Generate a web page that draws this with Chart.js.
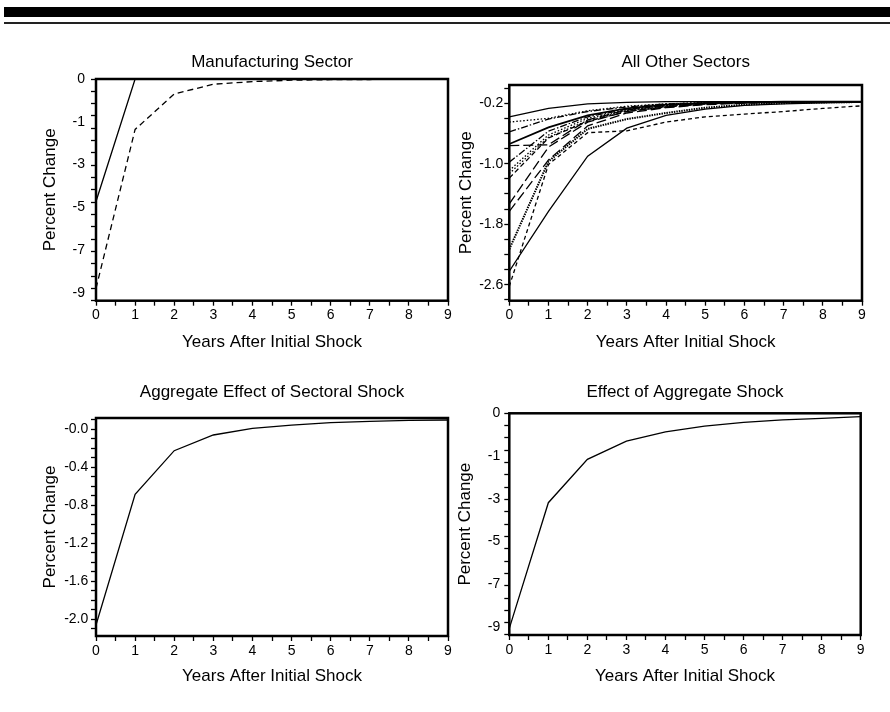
<!DOCTYPE html>
<html>
<head>
<meta charset="utf-8">
<title>Sectoral and aggregate shocks</title>
<script src="https://cdn.jsdelivr.net/npm/chart.js@4.4.0/dist/chart.umd.min.js"></script>
<style>
  body { margin: 0; background: #fff; width: 890px; height: 712px; position: relative; overflow: hidden; }
  .bar { position: absolute; left: 4px; right: 0; top: 7px; height: 10px; background: #000; }
  .rule { position: absolute; left: 4px; right: 0; top: 22px; height: 1.5px; background: #222; }
  .panel { position: absolute; }
  canvas { display: block; }
</style>
</head>
<body>
<div class="bar"></div>
<div class="rule"></div>
<div class="panel" style="left:0;top:40px"><canvas id="mfg" width="460" height="320"></canvas></div>
<div class="panel" style="left:455px;top:40px"><canvas id="other" width="435" height="320"></canvas></div>
<div class="panel" style="left:0;top:370px"><canvas id="aggSect" width="460" height="320"></canvas></div>
<div class="panel" style="left:455px;top:370px"><canvas id="aggShock" width="435" height="320"></canvas></div>
<script>
const years = [0, 1, 2, 3, 4, 5, 6, 7, 8, 9];
const xTickLabels = ['0', '1', '2', '3', '4', '5', '6', '7', '8', '9'];

// Manufacturing Sector
const mfgSolid = [-5.15, 0, 0, 0, 0, 0, 0, 0, 0, 0];
const mfgDashed = [-8.8, -2.12, -0.63, -0.22, -0.11, -0.05, -0.03, -0.02, -0.01, -0.01];
const mfgTickValues = [0, -1.8, -3.6, -5.4, -7.2, -9.0];
const mfgTickLabels = ['0', '-1', '-3', '-5', '-7', '-9'];

// All Other Sectors
const sector1 = [-0.38, -0.27, -0.21, -0.19, -0.18, -0.18, -0.18, -0.18, -0.18, -0.18];
const sector2 = [-0.45, -0.40, -0.30, -0.24, -0.21, -0.19, -0.18, -0.18, -0.18, -0.18];
const sector3 = [-0.58, -0.41, -0.31, -0.25, -0.21, -0.195, -0.185, -0.18, -0.18, -0.18];
const sector4 = [-0.74, -0.52, -0.36, -0.27, -0.22, -0.20, -0.19, -0.18, -0.18, -0.18];
const sector5 = [-0.76, -0.75, -0.42, -0.29, -0.23, -0.20, -0.19, -0.18, -0.18, -0.18];
const sector6 = [-0.98, -0.57, -0.38, -0.28, -0.23, -0.20, -0.19, -0.18, -0.18, -0.18];
const sector7 = [-1.09, -0.62, -0.40, -0.29, -0.23, -0.20, -0.19, -0.185, -0.18, -0.18];
const sector8 = [-1.13, -0.65, -0.43, -0.30, -0.24, -0.21, -0.19, -0.185, -0.18, -0.18];
const sector9 = [-1.19, -0.66, -0.44, -0.31, -0.25, -0.21, -0.195, -0.19, -0.185, -0.18];
const sector10 = [-1.53, -0.78, -0.45, -0.31, -0.25, -0.21, -0.195, -0.19, -0.185, -0.18];
const sector11 = [-1.63, -0.95, -0.50, -0.33, -0.26, -0.22, -0.20, -0.19, -0.185, -0.18];
const sector12 = [-2.13, -0.97, -0.54, -0.41, -0.33, -0.26, -0.22, -0.20, -0.19, -0.185];
const sector13 = [-2.42, -1.63, -0.90, -0.53, -0.36, -0.28, -0.23, -0.21, -0.195, -0.185];
const sector14 = [-2.62, -1.01, -0.59, -0.565, -0.45, -0.38, -0.345, -0.31, -0.27, -0.235];
const otherTickValues = [-0.2, -1.0, -1.8, -2.6];
const otherTickLabels = ['-0.2', '-1.0', '-1.8', '-2.6'];

// Aggregate Effect of Sectoral Shock
const aggSectoral = [-2.06, -0.684, -0.225, -0.06, 0.01, 0.045, 0.07, 0.084, 0.095, 0.098];
const aggSectTickValues = [0, -0.4, -0.8, -1.2, -1.6, -2.0];
const aggSectTickLabels = ['-0.0', '-0.4', '-0.8', '-1.2', '-1.6', '-2.0'];

// Effect of Aggregate Shock
const aggShock = [-9.07, -3.77, -1.94, -1.17, -0.78, -0.54, -0.38, -0.28, -0.21, -0.14];
const aggShockTickValues = [0, -1.8, -3.6, -5.4, -7.2, -9.0];
const aggShockTickLabels = ['0', '-1', '-3', '-5', '-7', '-9'];

const FONT = "'Liberation Sans', Arial, Helvetica, sans-serif";
Chart.defaults.font.family = FONT;
Chart.defaults.color = '#000';

const dotted = [1.5, 2];
const dashed = [5, 3];
const longDash = [10, 4];
const dashDot = [7, 2, 1.5, 2];

// box around the plot area
const framePlugin = {
  id: 'frame',
  afterDatasetsDraw(chart) {
    const { ctx, chartArea: { left, top, right, bottom } } = chart;
    ctx.save();
    ctx.lineWidth = 2.5;
    ctx.strokeStyle = '#000';
    ctx.strokeRect(left, top, right - left, bottom - top);
    ctx.restore();
  }
};

function toPoints(values) {
  return values.map((v, i) => ({ x: years[i], y: v }));
}

function makeChart(id, cfg) {
  new Chart(document.getElementById(id), {
    type: 'line',
    data: {
      datasets: cfg.series.map(s => ({
        data: toPoints(s.values),
        borderColor: '#000',
        borderWidth: s.width || 1.3,
        borderDash: s.dash || [],
        pointRadius: 0,
        fill: false,
        tension: 0
      }))
    },
    options: {
      responsive: false,
      animation: false,
      events: [],
      layout: { padding: { left: 0, right: cfg.padRight, top: 0, bottom: 0 } },
      plugins: {
        legend: { display: false },
        tooltip: { enabled: false },
        title: {
          display: true,
          text: cfg.title,
          fullSize: false,
          color: '#000',
          font: { size: 17, weight: 'normal' },
          padding: { top: cfg.titleTop, bottom: cfg.titleBottom }
        }
      },
      scales: {
        x: {
          type: 'linear',
          min: 0,
          max: 9,
          afterFit: s => { s.height = cfg.xHeight; },
          afterBuildTicks: s => {
            const t = [];
            for (let v = 0; v <= 9; v += 0.5) t.push({ value: v });
            s.ticks = t;
          },
          ticks: {
            autoSkip: false,
            maxRotation: 0,
            padding: cfg.xTickPad,
            font: { size: 14 },
            color: '#000',
            callback: v => Number.isInteger(v) ? xTickLabels[v] : ''
          },
          grid: { drawOnChartArea: false, drawTicks: true, tickLength: 5, tickWidth: 1.3, tickColor: '#000' },
          border: { display: false },
          title: {
            display: true,
            text: 'Years After Initial Shock',
            color: '#000',
            font: { size: 17 },
            padding: { top: 0, bottom: cfg.xTitleBottom }
          }
        },
        y: {
          type: 'linear',
          min: cfg.yMin,
          max: cfg.yMax,
          afterFit: s => { s.width = cfg.yWidth; },
          afterBuildTicks: s => {
            const t = [];
            const n = Math.round((cfg.minorTop - cfg.minorBottom) / cfg.minorStep);
            for (let i = 0; i <= n; i++) t.push({ value: cfg.minorTop - i * cfg.minorStep });
            cfg.tickValues.forEach((v, i) => {
              const hit = t.find(k => Math.abs(k.value - v) < 1e-6);
              if (hit) hit.lbl = cfg.tickLabels[i];
              else t.push({ value: v, lbl: cfg.tickLabels[i], hidden: true });
            });
            t.sort((a, b) => a.value - b.value);
            s.ticks = t;
          },
          ticks: {
            autoSkip: false,
            padding: cfg.yTickPad,
            font: { size: 14 },
            color: '#000',
            callback: (v, i, t) => t[i].lbl || ''
          },
          grid: {
            drawOnChartArea: false,
            drawTicks: true,
            tickLength: 5,
            tickWidth: 1.3,
            tickColor: c => (c.tick && c.tick.hidden) ? 'rgba(0,0,0,0)' : '#000'
          },
          border: { display: false },
          title: {
            display: true,
            text: 'Percent Change',
            color: '#000',
            font: { size: 17 },
            padding: { top: cfg.yTitlePad, bottom: 0 }
          }
        }
      }
    },
    plugins: [framePlugin]
  });
}

makeChart('mfg', {
  title: 'Manufacturing Sector',
  series: [
    { values: mfgSolid },
    { values: mfgDashed, dash: [6, 4] }
  ],
  yMin: -9.32, yMax: 0,
  minorTop: 0, minorBottom: -9.32, minorStep: 9.32 / 18,
  tickValues: mfgTickValues, tickLabels: mfgTickLabels,
  padRight: 12, yWidth: 96, xHeight: 59.3,
  titleTop: 11.8, titleBottom: 6.8,
  xTickPad: 1.5, xTitleBottom: 7.1, yTickPad: 6, yTitlePad: 39.8
});

makeChart('other', {
  title: 'All Other Sectors',
  series: [
    { values: sector1 },
    { values: sector2, dash: dotted },
    { values: sector3, dash: dashDot },
    { values: sector4, width: 1.8 },
    { values: sector5, dash: longDash },
    { values: sector6, dash: dashDot },
    { values: sector7, dash: dotted },
    { values: sector8, dash: dotted },
    { values: sector9, dash: dashed },
    { values: sector10, dash: longDash },
    { values: sector11, dash: longDash },
    { values: sector12, dash: [1.5, 1], width: 2 },
    { values: sector13 },
    { values: sector14, dash: [4, 3] }
  ],
  yMin: -2.81, yMax: 0.04,
  minorTop: 0, minorBottom: -2.8, minorStep: 0.2,
  tickValues: otherTickValues, tickLabels: otherTickLabels,
  padRight: 28, yWidth: 54.3, xHeight: 59.3,
  titleTop: 11.8, titleBottom: 12.8,
  xTickPad: 1.5, xTitleBottom: 7.1, yTickPad: 1, yTitlePad: 0.8
});

makeChart('aggSect', {
  title: 'Aggregate Effect of Sectoral Shock',
  series: [{ values: aggSectoral }],
  yMin: -2.176, yMax: 0.119,
  minorTop: 0.1, minorBottom: -2.1, minorStep: 0.1,
  tickValues: aggSectTickValues, tickLabels: aggSectTickLabels,
  padRight: 12, yWidth: 96, xHeight: 54,
  titleTop: 12.5, titleBottom: 15.1,
  xTickPad: 1.5, xTitleBottom: 3.8, yTickPad: 2.7, yTitlePad: 39.8
});

makeChart('aggShock', {
  title: 'Effect of Aggregate Shock',
  series: [{ values: aggShock }],
  yMin: -9.35, yMax: 0,
  minorTop: 0, minorBottom: -9.35, minorStep: 9.35 / 18,
  tickValues: aggShockTickValues, tickLabels: aggShockTickLabels,
  padRight: 29.3, yWidth: 54.3, xHeight: 55,
  titleTop: 12.5, titleBottom: 10.4,
  xTickPad: 1.5, xTitleBottom: 3.8, yTickPad: 4, yTitlePad: 0.6
});
</script>
</body>
</html>
